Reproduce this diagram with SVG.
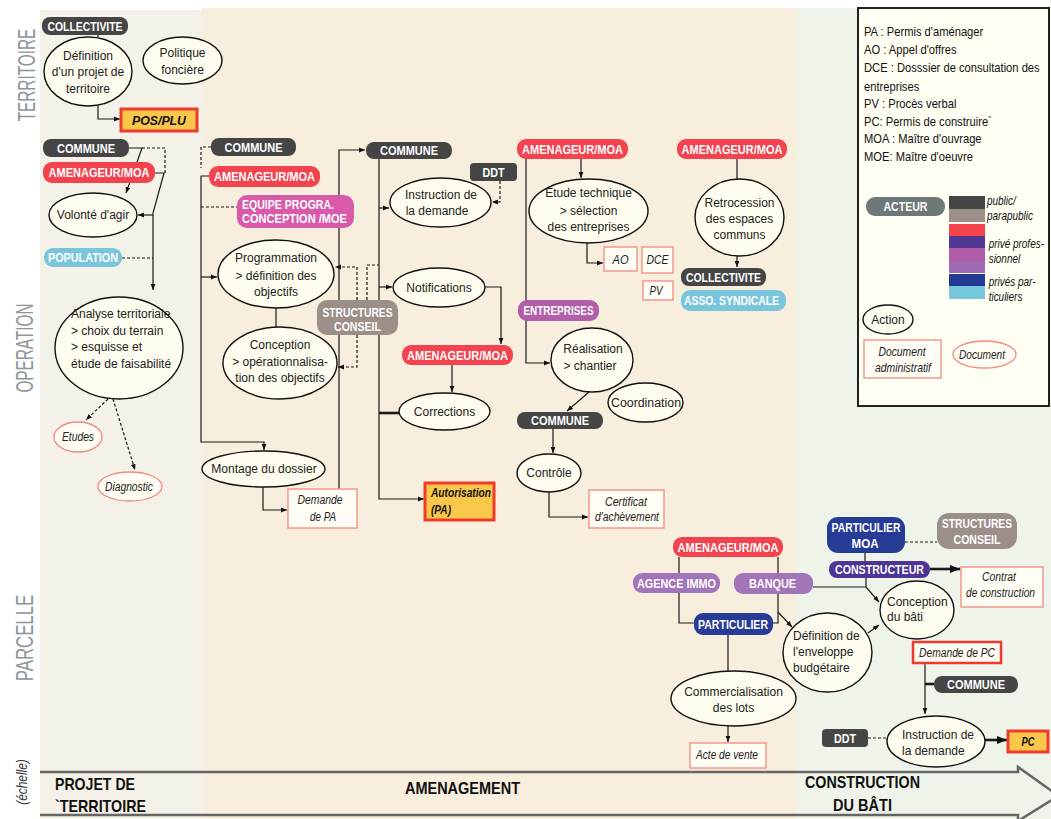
<svg xmlns="http://www.w3.org/2000/svg" width="1051" height="819" viewBox="0 0 1051 819">
<defs>
<style>
text{font-family:"Liberation Sans",Arial,sans-serif;}
.lab{fill:#fff;font-weight:bold;font-size:12.5px;text-anchor:middle}
.pk{fill:#454545}.pr{fill:#f2434f}.pm{fill:#d95aa9}.pc{fill:#79c6dc}.pt{fill:#9c8f8a}.pe{fill:#b25ea9}.pl{fill:#a274b9}.pn{fill:#273c96}.pd{fill:#4e3595}.ps{fill:#6f7878}
.e{fill:#fefcee;stroke:#111;stroke-width:1.4}
.ed{fill:#fffdf4;stroke:#f28a7f;stroke-width:1.3}
.et{font-size:12px;fill:#222;text-anchor:middle}
.el{font-size:12px;fill:#222}
.doc{fill:#fffdf4;stroke:#f28a7f;stroke-width:1.3}
.di{font-size:12px;font-style:italic;fill:#222;text-anchor:middle}
.adm{fill:#f9c84b;stroke:#ee3b2c;stroke-width:3}
.ai{font-size:12px;font-style:italic;font-weight:bold;fill:#111}
.c{fill:none;stroke:#1a1a1a;stroke-width:1.2}
.d{stroke-dasharray:3 2}
.k{fill:none;stroke:#1a1a1a;stroke-width:2.6}
.side{font-size:24px;fill:#8c979c;text-anchor:middle}
.lg{font-size:13px;fill:#111}
.li{font-size:12px;font-style:italic;fill:#111}
.band{font-size:17px;font-weight:bold;fill:#111}
</style>
<marker id="a" viewBox="0 0 10 10" refX="10" refY="5" markerWidth="6" markerHeight="6" orient="auto" markerUnits="userSpaceOnUse"><path d="M0,1 L10,5 L0,9 z" fill="#111"/></marker>
<marker id="b" viewBox="0 0 10 10" refX="10" refY="5" markerWidth="10" markerHeight="10" orient="auto" markerUnits="userSpaceOnUse"><path d="M0,1 L10,5 L0,9 z" fill="#111"/></marker>
</defs>

<g id="background">
<rect x="0" y="0" width="1051" height="819" fill="#ffffff"/>
<rect x="40" y="10" width="162" height="809" fill="#f4f1e8"/>
<rect x="202" y="8" width="595" height="811" fill="#f7eedd"/>
<rect x="797" y="8" width="254" height="811" fill="#eef4ea"/>
<path d="M40,772 H1018 V767 L1060,797" fill="none" stroke="#666" stroke-width="2.5"/>
<path d="M40,815 H1018 V821 L1060,795" fill="none" stroke="#666" stroke-width="2.5"/>
<text class="side" transform="translate(35,75) rotate(-90) scale(0.64,1)">TERRITOIRE</text>
<text class="side" transform="translate(33,348) rotate(-90) scale(0.64,1)">OPERATION</text>
<text class="side" transform="translate(33,638) rotate(-90) scale(0.7,1)">PARCELLE</text>
<text transform="translate(27,782) rotate(-90) scale(0.85,1)" text-anchor="middle" font-size="14" font-style="italic" fill="#333">(échelle)</text>
<text class="band" x="55" y="790" textLength="80" lengthAdjust="spacingAndGlyphs">PROJET DE</text>
<text class="band" x="55" y="812" textLength="91" lengthAdjust="spacingAndGlyphs">`TERRITOIRE</text>
<text class="band" x="405" y="794" textLength="115" lengthAdjust="spacingAndGlyphs">AMENAGEMENT</text>
<text class="band" x="805" y="788" textLength="115" lengthAdjust="spacingAndGlyphs">CONSTRUCTION</text>
<text class="band" x="833" y="811" textLength="59" lengthAdjust="spacingAndGlyphs">DU BÂTI</text>
</g>

<g id="connectors">
<path class="c" d="M98,35 V37"/>
<path class="c" d="M98,106 V119 H120" marker-end="url(#a)"/>
<path class="c" d="M129,148 H142 L126,193" marker-end="url(#a)"/>
<path class="c d" d="M142,148 H165 V173"/>
<path class="c" d="M155,173 H164 L153,213 V290" marker-end="url(#a)"/>
<path class="c" d="M153,215 H138" marker-end="url(#a)"/>
<path class="c d" d="M122,258 H153"/>
<path class="c d" d="M108,399 L86,420" marker-end="url(#a)"/>
<path class="c d" d="M113,399 L135,470" marker-end="url(#a)"/>

<path class="c d" d="M211,147 H201 V168"/>
<path class="c" d="M209,176 H201 V442 H264 V450" marker-end="url(#a)"/>
<path class="c d" d="M201,207 H237"/>
<path class="c" d="M201,277 H217" marker-end="url(#a)"/>
<path class="c" d="M276,308 V327"/>
<path class="c" d="M339,489 V150 H365" marker-end="url(#a)"/>
<path class="c" d="M263,487 V510 H287" marker-end="url(#a)"/>
<path class="c" d="M379,159 V499 H424" marker-end="url(#a)"/>
<path class="c" d="M379,208 H389" marker-end="url(#a)"/>
<path class="c" d="M379,287 H392" marker-end="url(#a)"/>
<path class="k" d="M379,413 H399"/>
<path class="c d" d="M500,181 V202 H492" marker-end="url(#a)"/>
<path class="c" d="M485,287 H501 V344" marker-end="url(#a)"/>
<path class="c" d="M452,365 V392" marker-end="url(#a)"/>
<path class="c d" d="M357,300 V267 H335" marker-end="url(#a)"/>
<path class="c d" d="M367,300 V265 H379"/>
<path class="c d" d="M357,335 V367 H338" marker-end="url(#a)"/>

<path class="c" d="M526,159 V363 H550" marker-end="url(#a)"/>
<path class="c" d="M581,159 V178" marker-end="url(#a)"/>
<path class="c" d="M587,243 V263 H603" marker-end="url(#a)"/>
<path class="c" d="M589,392 L567,411" marker-end="url(#a)"/>
<path class="c" d="M553,429 V453" marker-end="url(#a)"/>
<path class="c" d="M549,492 V517 H588" marker-end="url(#a)"/>
<path class="c" d="M737,159 V179"/>
<path class="c" d="M737,256 V267" marker-end="url(#a)"/>

<path class="c" d="M679,557 V623 H694"/>
<path class="c" d="M778,557 V623 H773"/>
<path class="c" d="M778,612 L792,627" marker-end="url(#a)"/>
<path class="c" d="M813,587 H866"/>
<path class="c" d="M866,577 V587 L879,602" marker-end="url(#a)"/>
<path class="c" d="M865,553 V561"/>
<path class="c d" d="M905,542 H937"/>
<path class="k" d="M930,569 H960" marker-end="url(#b)"/>
<path class="c" d="M868,633 L879,625" marker-end="url(#a)"/>
<path class="c" d="M728,635 V671"/>
<path class="c" d="M728,726 V742" marker-end="url(#a)"/>
<path class="c" d="M925,663 V714" marker-end="url(#a)"/>
<path class="k" d="M925,684 H934"/>
<path class="c d" d="M868,738 H887"/>
<path class="k" d="M985,740 H1007" marker-end="url(#b)"/>
</g>

<g id="n-collectivite1"><rect class="pk" x="42" y="17" width="86" height="18" rx="8"/><text class="lab" x="85" y="30.5" textLength="75" lengthAdjust="spacingAndGlyphs">COLLECTIVITE</text></g>
<g id="n-definition"><ellipse class="e" cx="88" cy="71.5" rx="44" ry="34.5"/><text class="et" x="88" y="60">Définition</text><text class="et" x="88" y="76">d'un projet de</text><text class="et" x="88" y="93">territoire</text></g>
<g id="n-politique"><ellipse class="e" cx="182.5" cy="60.5" rx="39.5" ry="23.5"/><text class="et" x="182.5" y="57">Politique</text><text class="et" x="182.5" y="74">foncière</text></g>
<g id="n-posplu"><rect class="adm" x="121" y="109" width="76" height="22"/><text class="ai" x="159" y="124.5" text-anchor="middle" textLength="54" lengthAdjust="spacingAndGlyphs">POS/PLU</text></g>
<g id="n-commune1"><rect class="pk" x="43" y="139" width="86" height="18" rx="8"/><text class="lab" x="86" y="152.5" textLength="58" lengthAdjust="spacingAndGlyphs">COMMUNE</text></g>
<g id="n-amenageur1"><rect class="pr" x="43" y="162" width="112" height="21" rx="9"/><text class="lab" x="99" y="177" textLength="101" lengthAdjust="spacingAndGlyphs">AMENAGEUR/MOA</text></g>
<g id="n-volonte"><ellipse class="e" cx="93" cy="215" rx="44" ry="22"/><text class="et" x="93" y="219">Volonté d'agir</text></g>
<g id="n-population"><rect class="pc" x="44" y="248" width="78" height="19" rx="9"/><text class="lab" x="83" y="262" textLength="70" lengthAdjust="spacingAndGlyphs">POPULATION</text></g>
<g id="n-analyse"><ellipse class="e" cx="119" cy="348" rx="64" ry="51"/><text class="el" x="71" y="318">Analyse territoriale</text><text class="el" x="71" y="335">&gt; choix du terrain</text><text class="el" x="71" y="351">&gt; esquisse et</text><text class="el" x="71" y="368">étude de faisabilité</text></g>
<g id="n-etudes"><ellipse class="ed" cx="78" cy="437" rx="24" ry="15"/><text class="di" x="78" y="441" textLength="32" lengthAdjust="spacingAndGlyphs">Etudes</text></g>
<g id="n-diagnostic"><ellipse class="ed" cx="130" cy="486.5" rx="32" ry="14.5"/><text class="di" x="129" y="490.5" textLength="48" lengthAdjust="spacingAndGlyphs">Diagnostic</text></g>

<g id="n-commune2"><rect class="pk" x="211" y="138" width="85" height="18" rx="8"/><text class="lab" x="253.5" y="151.5" textLength="58" lengthAdjust="spacingAndGlyphs">COMMUNE</text></g>
<g id="n-amenageur2"><rect class="pr" x="209" y="166" width="111" height="21" rx="9"/><text class="lab" x="264.5" y="181" textLength="101" lengthAdjust="spacingAndGlyphs">AMENAGEUR/MOA</text></g>
<g id="n-equipe"><rect class="pm" x="237" y="195" width="117" height="33" rx="10"/><text class="lab" x="242" y="209" style="text-anchor:start" textLength="92" lengthAdjust="spacingAndGlyphs">EQUIPE PROGRA.</text><text class="lab" x="242" y="223" style="text-anchor:start" textLength="105" lengthAdjust="spacingAndGlyphs">CONCEPTION /MOE</text></g>
<g id="n-programmation"><ellipse class="e" cx="276" cy="274" rx="58" ry="34"/><text class="et" x="276" y="262">Programmation</text><text class="et" x="276" y="280">&gt; définition des</text><text class="et" x="276" y="296">objectifs</text></g>
<g id="n-conception"><ellipse class="e" cx="280" cy="363" rx="57" ry="36"/><text class="et" x="280" y="349">Conception</text><text class="et" x="280" y="366">&gt; opérationnalisa-</text><text class="et" x="280" y="382">tion des objectifs</text></g>
<g id="n-structures1"><rect class="pt" x="317" y="300" width="81" height="35" rx="10"/><text class="lab" x="357.5" y="316.5" textLength="70" lengthAdjust="spacingAndGlyphs">STRUCTURES</text><text class="lab" x="357.5" y="331" textLength="47" lengthAdjust="spacingAndGlyphs">CONSEIL</text></g>
<g id="n-montage"><ellipse class="e" cx="263.5" cy="469" rx="61.5" ry="18"/><text class="et" x="264" y="473">Montage du dossier</text></g>
<g id="n-demandepa"><rect class="doc" x="288" y="489" width="69" height="39"/><text class="di" x="320" y="504" textLength="45" lengthAdjust="spacingAndGlyphs">Demande</text><text class="di" x="323" y="521" textLength="26" lengthAdjust="spacingAndGlyphs">de PA</text></g>

<g id="n-commune3"><rect class="pk" x="366" y="142" width="86" height="17" rx="8"/><text class="lab" x="409" y="155" textLength="58" lengthAdjust="spacingAndGlyphs">COMMUNE</text></g>
<g id="n-ddt1"><rect class="pk" x="470" y="163" width="47" height="18" rx="4"/><text class="lab" x="493.5" y="176.5" textLength="22" lengthAdjust="spacingAndGlyphs">DDT</text></g>
<g id="n-instruction1"><ellipse class="e" cx="440.5" cy="202.5" rx="50.5" ry="24.5"/><text class="et" x="441" y="199">Instruction de</text><text class="et" x="437" y="215">la demande</text></g>
<g id="n-notifications"><ellipse class="e" cx="439" cy="287.5" rx="46" ry="19.5"/><text class="et" x="439" y="291.5">Notifications</text></g>
<g id="n-amenageur3"><rect class="pr" x="402" y="345" width="111" height="20" rx="9"/><text class="lab" x="457.5" y="359.5" textLength="101" lengthAdjust="spacingAndGlyphs">AMENAGEUR/MOA</text></g>
<g id="n-corrections"><ellipse class="e" cx="444.5" cy="411.5" rx="45.5" ry="18.5"/><text class="et" x="444.5" y="415.5">Corrections</text></g>
<g id="n-autorisation"><rect class="adm" x="425" y="483" width="69" height="37"/><text class="ai" x="431" y="497" textLength="60" lengthAdjust="spacingAndGlyphs">Autorisation</text><text class="ai" x="431" y="514" textLength="20" lengthAdjust="spacingAndGlyphs">(PA)</text></g>

<g id="n-amenageur4"><rect class="pr" x="517" y="139" width="111" height="20" rx="9"/><text class="lab" x="572.5" y="153.5" textLength="101" lengthAdjust="spacingAndGlyphs">AMENAGEUR/MOA</text></g>
<g id="n-etude"><ellipse class="e" cx="588.5" cy="211" rx="59.5" ry="32"/><text class="et" x="588.5" y="197">Etude technique</text><text class="et" x="588.5" y="215">&gt; sélection</text><text class="et" x="588.5" y="231">des entreprises</text></g>
<g id="n-ao"><rect class="doc" x="604" y="247" width="33" height="24"/><text class="di" x="620.5" y="263.5" textLength="16" lengthAdjust="spacingAndGlyphs">AO</text></g>
<g id="n-dce"><rect class="doc" x="642" y="247" width="31" height="26"/><text class="di" x="657.5" y="264" textLength="22" lengthAdjust="spacingAndGlyphs">DCE</text></g>
<g id="n-pv"><rect class="doc" x="643" y="281" width="30" height="19"/><text class="di" x="656" y="295" textLength="13" lengthAdjust="spacingAndGlyphs">PV</text></g>
<g id="n-entreprises"><rect class="pe" x="518" y="300" width="81" height="21" rx="9"/><text class="lab" x="558.5" y="315" textLength="70" lengthAdjust="spacingAndGlyphs">ENTREPRISES</text></g>
<g id="n-realisation"><ellipse class="e" cx="592" cy="360" rx="41" ry="32"/><text class="et" x="593" y="353">Réalisation</text><text class="et" x="590" y="370">&gt; chantier</text></g>
<g id="n-coordination"><ellipse class="e" cx="645.5" cy="402.5" rx="37.5" ry="19.5"/><text class="et" x="646" y="406.5" textLength="70" lengthAdjust="spacingAndGlyphs">Coordination</text></g>
<g id="n-commune4"><rect class="pk" x="517" y="412" width="86" height="17" rx="8"/><text class="lab" x="560" y="425" textLength="58" lengthAdjust="spacingAndGlyphs">COMMUNE</text></g>
<g id="n-controle"><ellipse class="e" cx="549" cy="473" rx="32" ry="19"/><text class="et" x="549" y="477">Contrôle</text></g>
<g id="n-certificat"><rect class="doc" x="589" y="490" width="75" height="38"/><text class="di" x="626" y="506" textLength="42" lengthAdjust="spacingAndGlyphs">Certificat</text><text class="di" x="627" y="521" textLength="64" lengthAdjust="spacingAndGlyphs">d'achèvement</text></g>

<g id="n-amenageur5"><rect class="pr" x="677" y="139" width="110" height="20" rx="9"/><text class="lab" x="732" y="153.5" textLength="101" lengthAdjust="spacingAndGlyphs">AMENAGEUR/MOA</text></g>
<g id="n-retrocession"><ellipse class="e" cx="739.5" cy="217.5" rx="44.5" ry="38.5"/><text class="et" x="739.5" y="207">Retrocession</text><text class="et" x="739.5" y="223">des espaces</text><text class="et" x="739.5" y="239">communs</text></g>
<g id="n-collectivite2"><rect class="pk" x="681" y="268" width="85" height="18" rx="8"/><text class="lab" x="723.5" y="281.5" textLength="75" lengthAdjust="spacingAndGlyphs">COLLECTIVITE</text></g>
<g id="n-asso"><rect class="pc" x="681" y="290" width="105" height="21" rx="9"/><text class="lab" x="731.5" y="305" textLength="95" lengthAdjust="spacingAndGlyphs">ASSO. SYNDICALE</text></g>

<g id="n-amenageur6"><rect class="pr" x="673" y="537" width="110" height="20" rx="9"/><text class="lab" x="728" y="551.5" textLength="101" lengthAdjust="spacingAndGlyphs">AMENAGEUR/MOA</text></g>
<g id="n-agence"><rect class="pl" x="633" y="573" width="87" height="20" rx="9"/><text class="lab" x="676.5" y="587.5" textLength="79" lengthAdjust="spacingAndGlyphs">AGENCE IMMO</text></g>
<g id="n-banque"><rect class="pl" x="734" y="573" width="79" height="21" rx="9"/><text class="lab" x="772.5" y="588" textLength="47" lengthAdjust="spacingAndGlyphs">BANQUE</text></g>
<g id="n-particulier1"><rect class="pn" x="694" y="613" width="79" height="22" rx="9"/><text class="lab" x="733" y="628.5" textLength="70" lengthAdjust="spacingAndGlyphs">PARTICULIER</text></g>
<g id="n-commercialisation"><ellipse class="e" cx="733.5" cy="698.5" rx="62.5" ry="27.5"/><text class="et" x="733.5" y="696">Commercialisation</text><text class="et" x="733.5" y="712">des lots</text></g>
<g id="n-acte"><rect class="doc" x="690" y="743" width="76" height="25"/><text class="di" x="727" y="759" textLength="62" lengthAdjust="spacingAndGlyphs">Acte de vente</text></g>
<g id="n-enveloppe"><ellipse class="e" cx="827.5" cy="652.5" rx="44.5" ry="39.5"/><text class="el" x="793" y="640">Définition de</text><text class="el" x="793" y="656">l'enveloppe</text><text class="el" x="793" y="672">budgétaire</text></g>
<g id="n-particuliermoa"><rect class="pn" x="827" y="517" width="78" height="36" rx="11"/><text class="lab" x="866" y="532" textLength="69" lengthAdjust="spacingAndGlyphs">PARTICULIER</text><text class="lab" x="865" y="548" textLength="27" lengthAdjust="spacingAndGlyphs">MOA</text></g>
<g id="n-structures2"><rect class="pt" x="937" y="513" width="80" height="36" rx="12"/><text class="lab" x="977" y="528" textLength="70" lengthAdjust="spacingAndGlyphs">STRUCTURES</text><text class="lab" x="977" y="544" textLength="47" lengthAdjust="spacingAndGlyphs">CONSEIL</text></g>
<g id="n-constructeur"><rect class="pd" x="829" y="561" width="101" height="17" rx="8"/><text class="lab" x="879.5" y="574" textLength="89" lengthAdjust="spacingAndGlyphs">CONSTRUCTEUR</text></g>
<g id="n-contrat"><rect class="doc" x="961" y="567" width="82" height="40"/><text class="di" x="999" y="581" textLength="34" lengthAdjust="spacingAndGlyphs">Contrat</text><text class="di" x="1000.5" y="597" textLength="69" lengthAdjust="spacingAndGlyphs">de construction</text></g>
<g id="n-conceptionbati"><ellipse class="e" cx="917" cy="610" rx="37" ry="29"/><text class="el" x="887" y="606">Conception</text><text class="el" x="887" y="621">du bâti</text></g>
<g id="n-demandepc"><rect x="913" y="642" width="88" height="21" fill="#fffdf4" stroke="#ee3b2c" stroke-width="2.5"/><text class="di" x="957" y="657" textLength="76" lengthAdjust="spacingAndGlyphs">Demande de PC</text></g>
<g id="n-commune5"><rect class="pk" x="934" y="676" width="84" height="17" rx="8"/><text class="lab" x="976" y="689" textLength="58" lengthAdjust="spacingAndGlyphs">COMMUNE</text></g>
<g id="n-ddt2"><rect class="pk" x="822" y="729" width="46" height="18" rx="4"/><text class="lab" x="845" y="742.5" textLength="22" lengthAdjust="spacingAndGlyphs">DDT</text></g>
<g id="n-instruction2"><ellipse class="e" cx="936" cy="741.5" rx="49" ry="25.5"/><text class="el" x="902" y="739">Instruction de</text><text class="el" x="902" y="755">la demande</text></g>
<g id="n-pc"><rect class="adm" x="1008" y="731" width="40" height="21"/><text class="ai" x="1028" y="746" text-anchor="middle" textLength="13" lengthAdjust="spacingAndGlyphs">PC</text></g>

<g id="legend">
<rect x="858" y="8" width="191" height="398" fill="#fefef2" stroke="#222" stroke-width="2"/>
<g transform="translate(864,0) scale(0.86,1)">
<text class="lg" x="0" y="36">PA : Permis d'aménager</text>
<text class="lg" x="0" y="54">AO : Appel d'offres</text>
<text class="lg" x="0" y="72">DCE : Dosssier de consultation des</text>
<text class="lg" x="0" y="91">entreprises</text>
<text class="lg" x="0" y="108">PV : Procès verbal</text>
<text class="lg" x="0" y="126">PC: Permis de construire`</text>
<text class="lg" x="0" y="143">MOA : Maître d'ouvrage</text>
<text class="lg" x="0" y="161">MOE: Maître d'oeuvre</text>
</g>
<rect class="ps" x="866" y="197" width="79" height="19" rx="9"/><text class="lab" x="905.5" y="211" textLength="44" lengthAdjust="spacingAndGlyphs">ACTEUR</text>
<rect x="949" y="196" width="36" height="13" fill="#454545"/>
<rect x="949" y="209" width="36" height="13" fill="#9c8f8a"/>
<rect x="949" y="224" width="36" height="12" fill="#f6444f"/>
<rect x="949" y="236" width="36" height="12" fill="#4f3994"/>
<rect x="949" y="248" width="36" height="13" fill="#b05ca8"/>
<rect x="949" y="261" width="36" height="12" fill="#9e6bb4"/>
<rect x="949" y="274" width="36" height="12" fill="#243b96"/>
<rect x="949" y="286" width="36" height="13" fill="#76c6dc"/>
<g transform="translate(987,0) scale(0.83,1)">
<text class="li" x="0" y="205">public/</text>
<text class="li" x="0" y="220">parapublic</text>
<text class="li" x="2" y="248">privé profes-</text>
<text class="li" x="2" y="263">sionnel</text>
<text class="li" x="2" y="286">privés par-</text>
<text class="li" x="2" y="301">ticuliers</text>
</g>
<ellipse class="e" cx="888" cy="319.5" rx="25" ry="14.5"/><text class="et" x="888" y="323.5">Action</text>
<rect class="doc" x="864" y="340" width="77" height="38"/><text class="di" x="902" y="356" textLength="47" lengthAdjust="spacingAndGlyphs">Document</text><text class="di" x="903" y="372" textLength="56" lengthAdjust="spacingAndGlyphs">administratif</text>
<ellipse class="ed" cx="984.5" cy="354.5" rx="31.5" ry="13.5"/><text class="di" x="982" y="358.5" textLength="46" lengthAdjust="spacingAndGlyphs">Document</text>
</g>
</svg>
